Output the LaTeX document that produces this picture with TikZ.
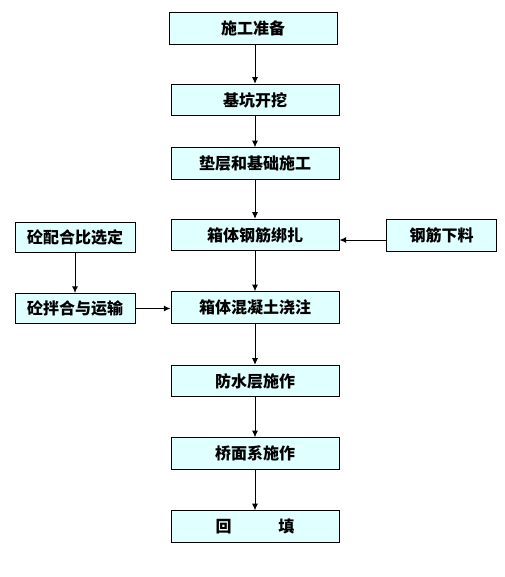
\documentclass[tikz,border=0pt]{standalone}
\usepackage{fontspec}
\newfontfamily\cjk{Noto Sans CJK SC}
\usetikzlibrary{positioning}
\usetikzlibrary{arrows.meta}
\definecolor{boxfill}{HTML}{E0FFFF}

\tikzset{
    stage/.style={draw, line width=0.75pt, fill=boxfill, inner sep=0pt,
        minimum width=126pt, minimum height=23.5pt, font=\cjk\bfseries\fontsize{12}{14}\selectfont},
    sidebox/.style={stage, minimum width=90pt, minimum height=22.5pt},
    flow/.style={line width=0.75pt, -{Latex[length=5pt,width=4.5pt]}}
}

\begin{document}
\begin{tikzpicture}[x=0.75pt, y=-0.75pt]

    \useasboundingbox (0,0) rectangle (505,577);

    % main column
    \node[stage] (prep) at (253, 28.5) {施工准备};
    \node[stage] (dig) at (255, 100) {基坑开挖};
    \node[stage] (base) at (255, 163.5) {垫层和基础施工};
    \node[stage] (rebar) at (255, 235) {箱体钢筋绑扎};
    \node[stage] (pour) at (255, 307.5) {箱体混凝土浇注};
    \node[stage] (proof) at (255, 381) {防水层施作};
    \node[stage] (deck) at (255, 453.5) {桥面系施作};
    \node[stage] (fill) at (255, 526.5) {回\hspace{35pt}填};

    % side boxes
    \node[sidebox] (mixdesign) at (75, 237.5) {砼配合比选定};
    \node[sidebox] (mixhaul) at (75, 308.5) {砼拌合与运输};
    \node[sidebox, minimum width=82pt, minimum height=24pt] (cut) at (441.5, 235) {钢筋下料};

    \coordinate (cutout) at ([yshift=-3.75pt]cut.west);

    \draw[flow] (prep.south -| dig.north) -- (dig.north);
    \draw[flow] (dig) -- (base);
    \draw[flow] (base) -- (rebar);
    \draw[flow] (rebar) -- (pour);
    \draw[flow] (pour) -- (proof);
    \draw[flow] (proof) -- (deck);
    \draw[flow] (deck) -- (fill);

    \draw[flow] (mixdesign) -- (mixhaul);
    \draw[flow] (mixhaul.east) -- (mixhaul.east -| pour.west);
    \draw[flow] (cutout) -- (cutout -| rebar.east);

\end{tikzpicture}
\end{document}
